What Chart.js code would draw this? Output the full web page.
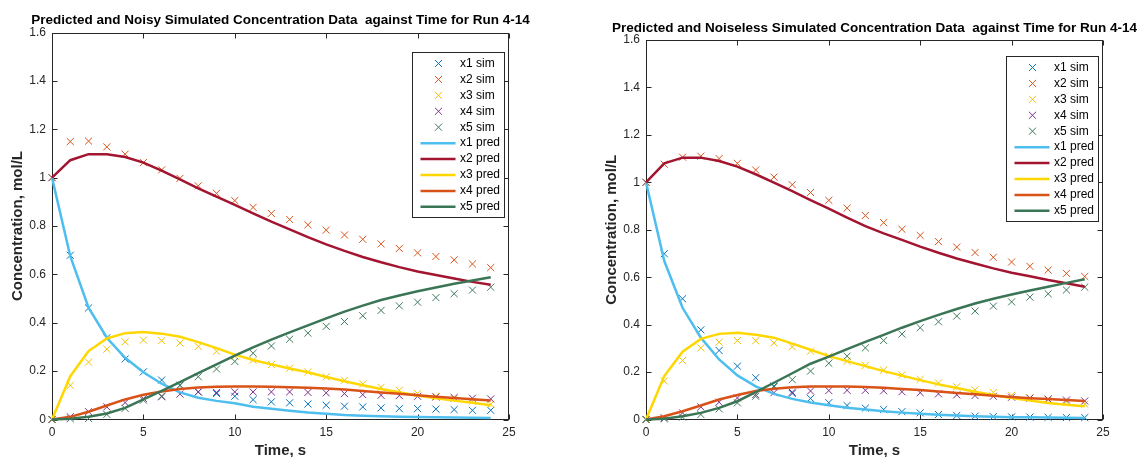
<!DOCTYPE html>
<html>
<head>
<meta charset="utf-8">
<script src="https://cdn.jsdelivr.net/npm/chart.js@4.4.1/dist/chart.umd.min.js"></script>
<style>
  html, body { margin: 0; padding: 0; background: #fff; overflow: hidden; width: 1141px; height: 457px; }
  canvas { position: absolute; top: 0; }
  #noisy { left: 0; }
  #clean { left: 594px; }
</style>
</head>
<body>
<canvas id="noisy" width="561" height="457"></canvas>
<canvas id="clean" width="561" height="457"></canvas>
<script>
// Sampling times (s)
const timeS = [0,1,2,3,4,5,6,7,8,9,10,11,12,13,14,15,16,17,18,19,20,21,22,23,24];

// Axis tick values
const xTickValues = [0, 5, 10, 15, 20, 25];
const yTickValues = [0, 0.2, 0.4, 0.6, 0.8, 1, 1.2, 1.4, 1.6];

// Run 4-14, noisy simulated concentrations (mol/L)
const x1SimNoisy = [1.0,0.679,0.461,0.338,0.25,0.197,0.163,0.141,0.114,0.107,0.096,0.082,0.073,0.069,0.064,0.059,0.055,0.052,0.048,0.045,0.045,0.043,0.041,0.038,0.038];
const x2SimNoisy = [1.0,1.149,1.151,1.127,1.097,1.062,1.032,0.997,0.966,0.935,0.905,0.877,0.852,0.827,0.805,0.783,0.763,0.745,0.726,0.707,0.689,0.674,0.66,0.643,0.628];
const x3SimNoisy = [0.0,0.141,0.237,0.291,0.321,0.328,0.326,0.316,0.302,0.282,0.262,0.245,0.227,0.212,0.197,0.176,0.162,0.147,0.133,0.121,0.107,0.096,0.087,0.076,0.063];
const x4SimNoisy = [0.0,0.011,0.032,0.052,0.07,0.087,0.094,0.105,0.114,0.112,0.114,0.114,0.114,0.114,0.112,0.11,0.107,0.103,0.1,0.099,0.096,0.093,0.091,0.088,0.085];
const x5SimNoisy = [0.0,0.003,0.004,0.021,0.046,0.08,0.097,0.142,0.177,0.209,0.24,0.274,0.304,0.332,0.357,0.385,0.405,0.429,0.451,0.47,0.485,0.504,0.52,0.535,0.547];

// Model predictions fitted to the noisy data
const x1PredNoisy = [1.0,0.675,0.462,0.338,0.255,0.195,0.148,0.112,0.09,0.077,0.067,0.053,0.044,0.036,0.029,0.024,0.019,0.016,0.013,0.011,0.01,0.009,0.008,0.007,0.006];
const x2PredNoisy = [1.0,1.072,1.097,1.097,1.085,1.062,1.029,0.993,0.956,0.921,0.887,0.852,0.818,0.786,0.754,0.724,0.697,0.672,0.65,0.63,0.612,0.597,0.583,0.569,0.557];
const x3PredNoisy = [0.0,0.179,0.283,0.335,0.357,0.362,0.355,0.342,0.32,0.295,0.268,0.246,0.228,0.211,0.195,0.176,0.158,0.142,0.126,0.113,0.099,0.088,0.078,0.069,0.059];
const x4PredNoisy = [0.0,0.011,0.032,0.058,0.083,0.102,0.116,0.126,0.132,0.135,0.136,0.136,0.135,0.133,0.131,0.128,0.124,0.118,0.112,0.106,0.1,0.094,0.089,0.084,0.079];
const x5PredNoisy = [0.0,0.003,0.011,0.025,0.048,0.083,0.118,0.155,0.192,0.228,0.264,0.298,0.33,0.36,0.389,0.418,0.446,0.471,0.494,0.513,0.53,0.546,0.561,0.575,0.588];

// Run 4-14, noiseless simulated concentrations (mol/L)
const x1SimClean = [1.0,0.699,0.509,0.378,0.291,0.225,0.176,0.141,0.11,0.089,0.071,0.059,0.048,0.042,0.033,0.028,0.021,0.017,0.014,0.012,0.011,0.01,0.009,0.008,0.008];
const x2SimClean = [1.0,1.076,1.106,1.11,1.1,1.08,1.052,1.022,0.99,0.957,0.924,0.891,0.86,0.83,0.802,0.776,0.75,0.727,0.704,0.684,0.664,0.646,0.63,0.616,0.603];
const x3SimClean = [0.0,0.162,0.249,0.302,0.326,0.333,0.332,0.323,0.307,0.288,0.267,0.246,0.228,0.208,0.188,0.169,0.154,0.138,0.125,0.114,0.102,0.092,0.083,0.074,0.065];
const x4SimClean = [0.0,0.007,0.028,0.053,0.073,0.091,0.105,0.113,0.115,0.12,0.122,0.123,0.123,0.121,0.117,0.113,0.108,0.104,0.101,0.098,0.094,0.09,0.086,0.082,0.078];
const x5SimClean = [0.0,0.003,0.01,0.021,0.045,0.07,0.098,0.138,0.168,0.204,0.237,0.267,0.302,0.333,0.36,0.387,0.412,0.436,0.457,0.478,0.496,0.516,0.53,0.546,0.558];

// Model predictions fitted to the noiseless data
const x1PredClean = [1.0,0.668,0.471,0.345,0.253,0.186,0.14,0.108,0.087,0.072,0.06,0.05,0.042,0.035,0.029,0.024,0.02,0.017,0.014,0.012,0.01,0.009,0.008,0.007,0.006];
const x2PredClean = [1.0,1.08,1.104,1.104,1.09,1.066,1.034,0.999,0.963,0.925,0.889,0.851,0.815,0.785,0.757,0.729,0.703,0.679,0.658,0.637,0.619,0.604,0.588,0.574,0.56];
const x3PredClean = [0.0,0.183,0.286,0.34,0.361,0.366,0.357,0.345,0.32,0.294,0.267,0.246,0.225,0.204,0.185,0.166,0.148,0.133,0.117,0.103,0.091,0.08,0.07,0.062,0.056];
const x4PredClean = [0.0,0.014,0.035,0.059,0.084,0.103,0.12,0.13,0.136,0.139,0.139,0.139,0.137,0.134,0.129,0.124,0.118,0.112,0.106,0.1,0.095,0.09,0.086,0.082,0.078];
const x5PredClean = [0.0,0.003,0.014,0.028,0.049,0.077,0.115,0.155,0.195,0.235,0.265,0.297,0.327,0.357,0.387,0.415,0.441,0.466,0.489,0.509,0.527,0.544,0.56,0.576,0.591];

const simColors  = ['#0072BD', '#D95319', '#F0C000', '#7E2F8E', '#3F7A5C'];
const predColors = ['#4DBEEE', '#A2142F', '#FFD700', '#D95319', '#3A7555'];

const FONT = '"Liberation Sans", Arial, Helvetica, sans-serif';
const AXIS_INK = '#262626';

// Bold title centred over the axes box
const axesTitle = {
  id: 'axesTitle',
  afterDraw(chart, args, opts) {
    const { ctx, chartArea } = chart;
    ctx.save();
    ctx.font = 'bold 13.5px ' + FONT;
    ctx.fillStyle = '#000000';
    ctx.textAlign = 'center';
    ctx.textBaseline = 'middle';
    ctx.fillText(opts.text, (chartArea.left + chartArea.right) / 2, opts.y);
    ctx.restore();
  }
};

// Box outline with inward tick marks on all four sides
const boxFrame = {
  id: 'boxFrame',
  beforeDatasetsDraw(chart) {
    const { ctx, chartArea, scales } = chart;
    const L = Math.round(chartArea.left) + 0.5, R = Math.round(chartArea.right) - 0.5;
    const T = Math.round(chartArea.top) + 0.5, B = Math.round(chartArea.bottom) - 0.5;
    const len = 5;
    ctx.save();
    ctx.strokeStyle = AXIS_INK;
    ctx.lineWidth = 1;
    ctx.strokeRect(L, T, R - L, B - T);
    ctx.beginPath();
    xTickValues.forEach(v => {
      const px = Math.round(scales.x.getPixelForValue(v)) + 0.5;
      ctx.moveTo(px, B); ctx.lineTo(px, B - len);
      ctx.moveTo(px, T); ctx.lineTo(px, T + len);
    });
    yTickValues.forEach(v => {
      const py = Math.round(scales.y.getPixelForValue(v)) + 0.5;
      ctx.moveTo(L, py); ctx.lineTo(L + len, py);
      ctx.moveTo(R, py); ctx.lineTo(R - len, py);
    });
    ctx.stroke();
    ctx.restore();
  }
};

// Legend box in the upper-right corner of the axes
const cornerLegend = {
  id: 'cornerLegend',
  afterDatasetsDraw(chart, args, opts) {
    const { ctx, chartArea } = chart;
    const w = 92, h = 165;
    const left = Math.round(chartArea.right - 5 - w) + 0.5;
    const top = Math.round(opts.top) + 0.5;
    const rowGap = 15.93;
    ctx.save();
    ctx.fillStyle = '#ffffff';
    ctx.fillRect(left, top, w, h);
    ctx.strokeStyle = AXIS_INK;
    ctx.lineWidth = 1;
    ctx.strokeRect(left, top, w, h);
    ctx.font = '12px ' + FONT;
    ctx.textBaseline = 'middle';
    ctx.textAlign = 'left';
    chart.data.datasets.forEach((ds, i) => {
      const y = top + 11 + i * rowGap;
      ctx.strokeStyle = ds.borderColor;
      if (ds.showLine) {
        ctx.lineWidth = ds.borderWidth;
        ctx.beginPath();
        ctx.moveTo(left + 8, y);
        ctx.lineTo(left + 43, y);
        ctx.stroke();
      } else {
        const cx = left + 26, a = ds.pointRadius * Math.SQRT1_2;
        ctx.lineWidth = ds.pointBorderWidth;
        ctx.beginPath();
        ctx.moveTo(cx - a, y - a); ctx.lineTo(cx + a, y + a);
        ctx.moveTo(cx - a, y + a); ctx.lineTo(cx + a, y - a);
        ctx.stroke();
      }
      ctx.fillStyle = '#000000';
      ctx.fillText(ds.label, left + 47.5, y);
    });
    ctx.restore();
  }
};

function toPoints(values) {
  return timeS.map((t, k) => ({ x: t, y: values[k] }));
}

function buildChart(canvasId, titleText, sims, preds, geom) {
  const datasets = [];
  sims.forEach((vals, i) => {
    datasets.push({
      label: 'x' + (i + 1) + ' sim',
      data: toPoints(vals),
      showLine: false,
      pointStyle: 'crossRot',
      pointRadius: 5,
      pointHoverRadius: 5,
      pointBorderWidth: 1,
      borderColor: simColors[i],
      backgroundColor: simColors[i],
      order: 10 + (4 - i),
      clip: false
    });
  });
  preds.forEach((vals, i) => {
    datasets.push({
      label: 'x' + (i + 1) + ' pred',
      data: toPoints(vals),
      showLine: true,
      borderColor: predColors[i],
      backgroundColor: predColors[i],
      borderWidth: 2.5,
      pointRadius: 0,
      pointHoverRadius: 0,
      tension: 0,
      fill: false,
      order: 4 - i,
      clip: false
    });
  });

  return new Chart(document.getElementById(canvasId), {
    type: 'scatter',
    data: { datasets },
    options: {
      responsive: false,
      animation: false,
      devicePixelRatio: 1,
      layout: { padding: { left: 0, right: 561 - 509, top: geom.plotTop, bottom: 0 } },
      plugins: {
        legend: { display: false },
        tooltip: { enabled: false },
        title: { display: false },
        axesTitle: { text: titleText, y: geom.titleY },
        cornerLegend: { top: geom.legendTop }
      },
      scales: {
        x: {
          type: 'linear',
          min: 0,
          max: 25,
          afterBuildTicks: s => { s.ticks = xTickValues.map(v => ({ value: v })); },
          afterFit: s => { s.height = 457 - 419.5; },
          grid: { display: false, drawTicks: false },
          border: { display: false },
          ticks: { color: AXIS_INK, padding: 6, font: { family: FONT, size: 12 }, callback: v => String(v) },
          title: {
            display: true,
            text: 'Time, s',
            color: AXIS_INK,
            font: { family: FONT, size: 15, weight: 'bold', lineHeight: 1 },
            padding: { top: 0, bottom: -1 }
          }
        },
        y: {
          type: 'linear',
          min: 0,
          max: 1.6,
          afterBuildTicks: s => { s.ticks = yTickValues.map(v => ({ value: v })); },
          afterFit: s => { s.width = 52; },
          grid: { display: false, drawTicks: false },
          border: { display: false },
          ticks: { color: AXIS_INK, padding: 6, font: { family: FONT, size: 12 }, callback: v => String(Math.round(v * 10) / 10) },
          title: {
            display: true,
            text: 'Concentration, mol/L',
            color: AXIS_INK,
            font: { family: FONT, size: 15, weight: 'bold', lineHeight: 1 },
            padding: { top: 10.5, bottom: 0 }
          }
        }
      }
    },
    plugins: [boxFrame, cornerLegend, axesTitle]
  });
}

buildChart('noisy',
  'Predicted and Noisy Simulated Concentration Data  against Time for Run 4-14',
  [x1SimNoisy, x2SimNoisy, x3SimNoisy, x4SimNoisy, x5SimNoisy],
  [x1PredNoisy, x2PredNoisy, x3PredNoisy, x4PredNoisy, x5PredNoisy],
  { titleY: 20, plotTop: 32.5, legendTop: 52 });

buildChart('clean',
  'Predicted and Noiseless Simulated Concentration Data  against Time for Run 4-14',
  [x1SimClean, x2SimClean, x3SimClean, x4SimClean, x5SimClean],
  [x1PredClean, x2PredClean, x3PredClean, x4PredClean, x5PredClean],
  { titleY: 28.5, plotTop: 40, legendTop: 56 });
</script>
</body>
</html>
